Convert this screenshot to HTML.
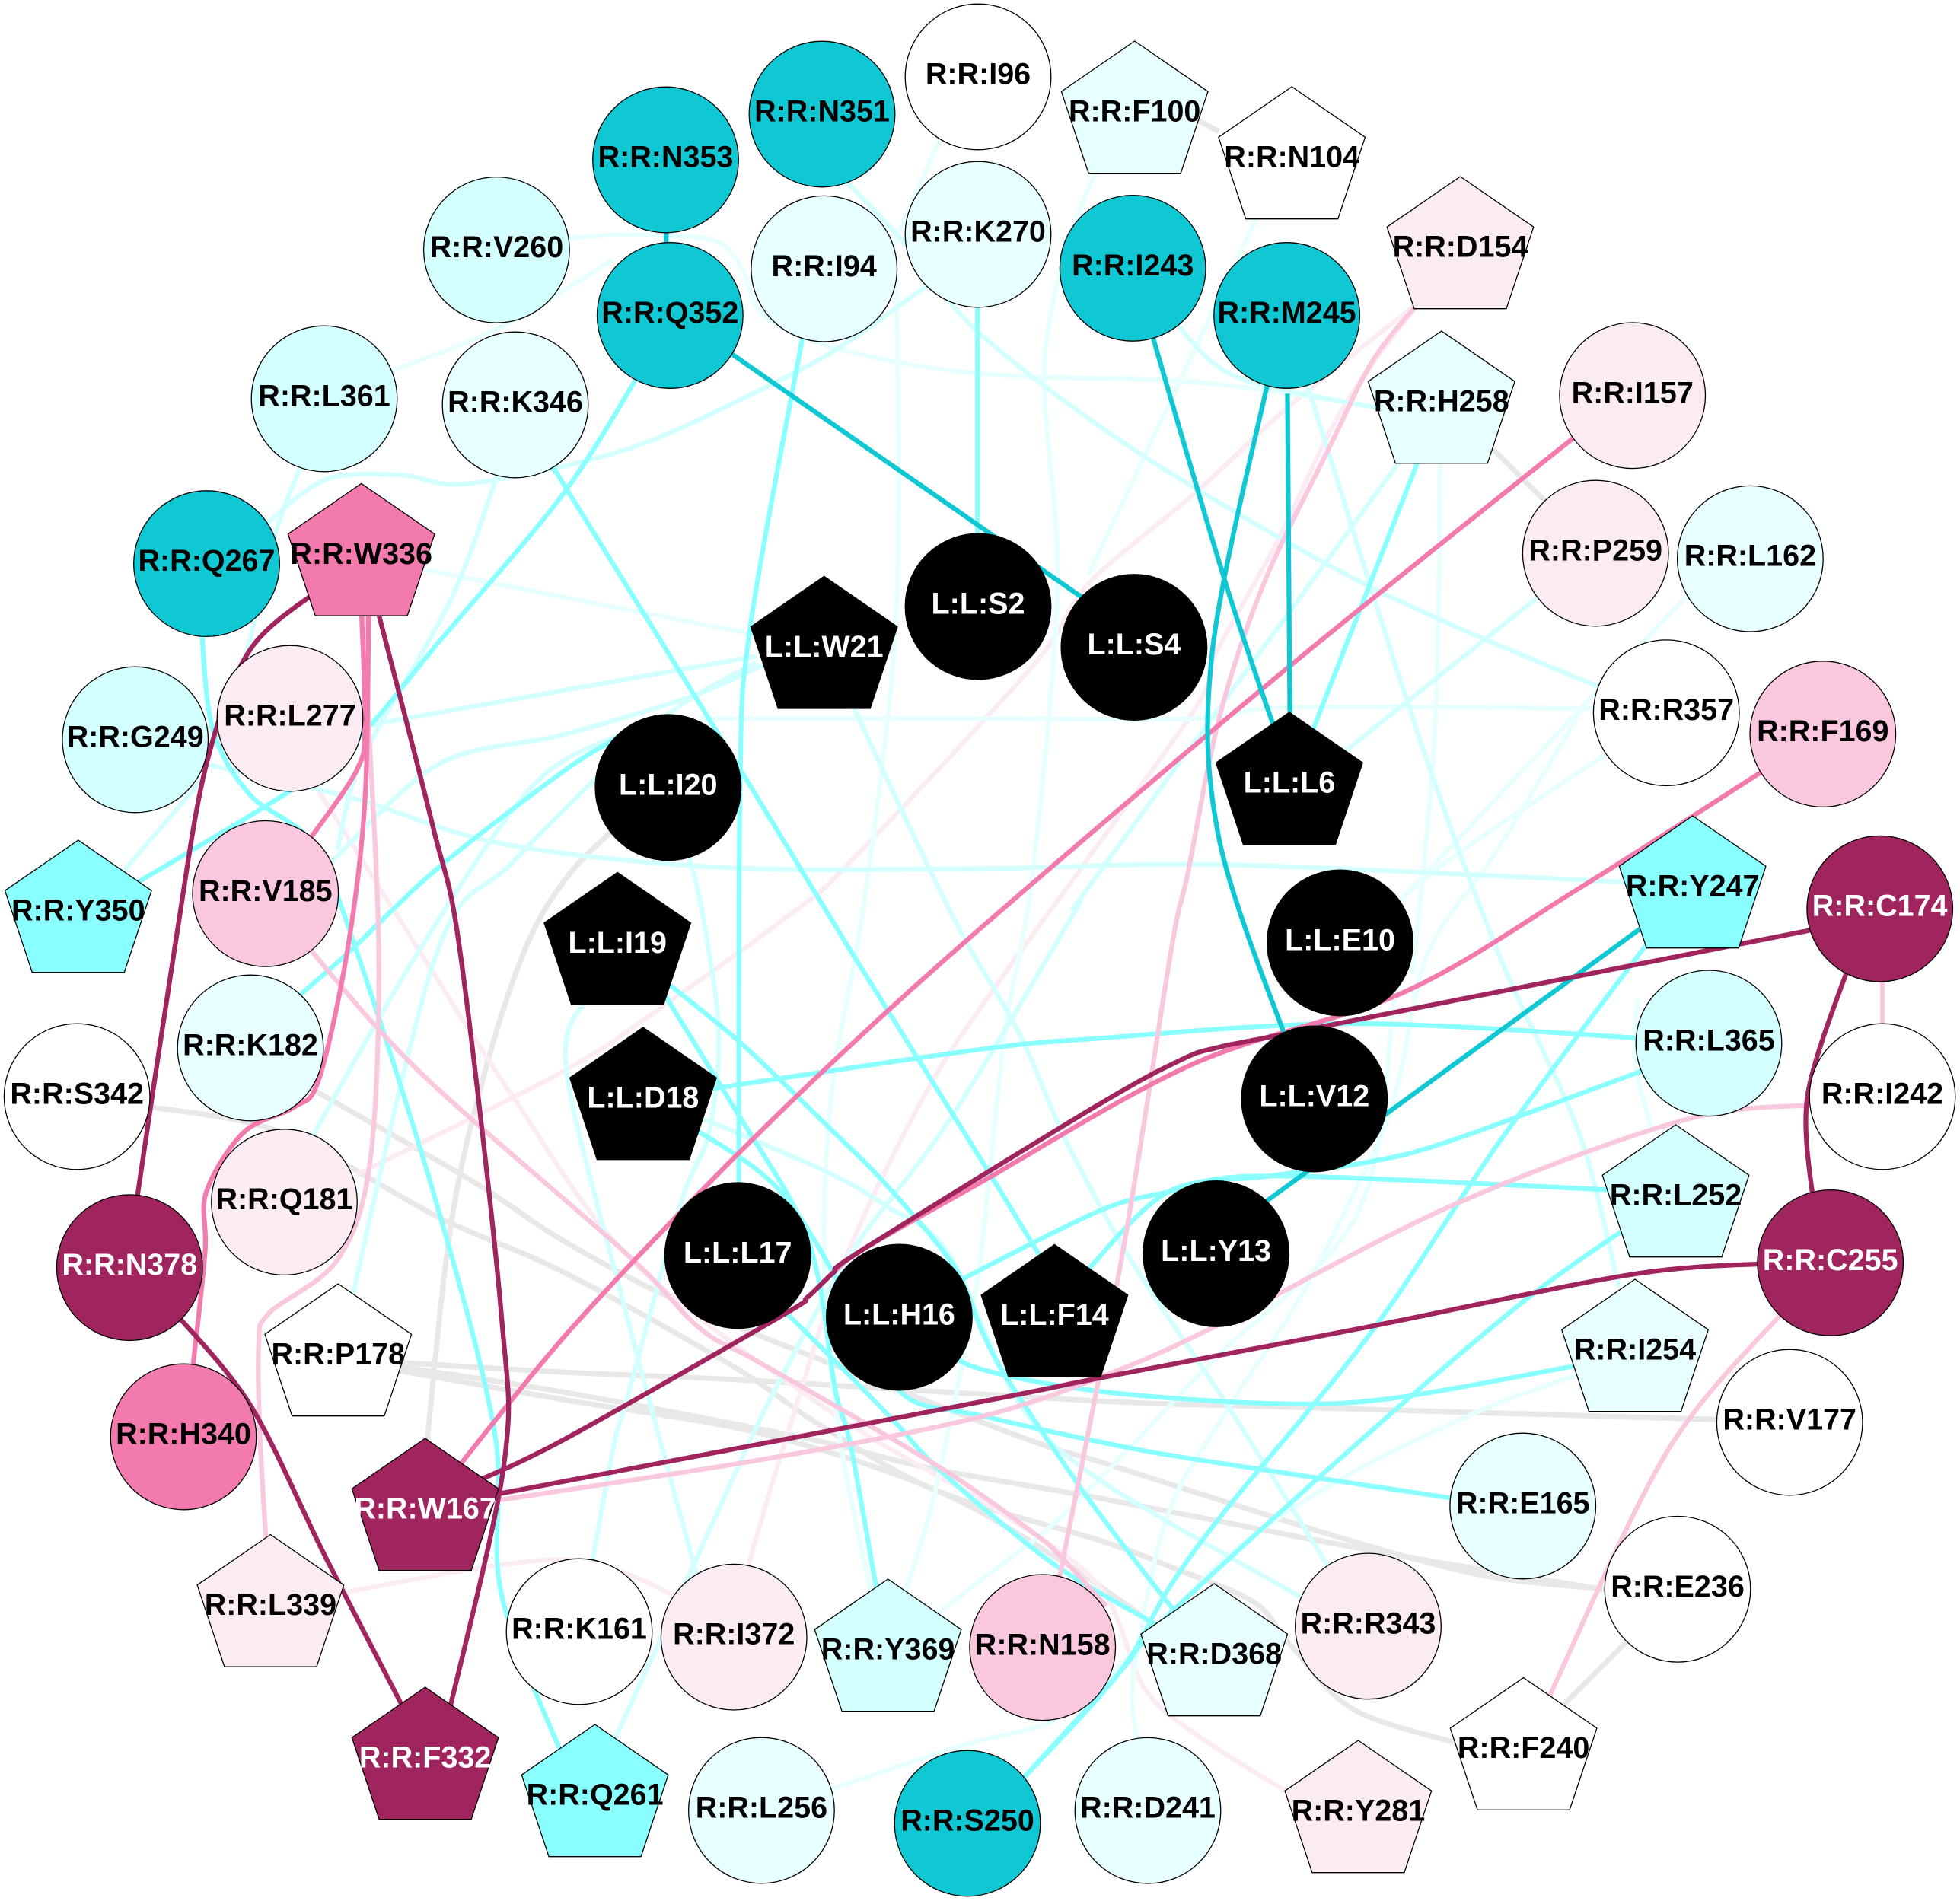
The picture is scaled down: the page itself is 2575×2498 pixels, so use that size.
<!DOCTYPE html>
<html><head><meta charset="utf-8"><style>
html,body{margin:0;padding:0;background:#fff}
svg{display:block}
path{fill:none;stroke-linecap:butt;stroke-linejoin:round}
text{font-family:"Liberation Sans",sans-serif;font-weight:bold;font-size:39.5px;text-anchor:middle;fill:#000}
text.w{fill:#fff}
.n circle,.n use{stroke:#000;stroke-width:1.3}
</style></head><body>
<svg xmlns="http://www.w3.org/2000/svg" width="2575" height="2498" viewBox="0 0 2575 2498">
<defs><polygon id="p" points="0,-96 96.3,-29.7 60.5,77.7 -60.5,77.7 -96.3,-29.7"/></defs>
<rect width="2575" height="2498" fill="#fff"/>
<g transform="scale(1.6422)" stroke-width="3.8">
<g stroke="#e8e8e8" stroke-width="4.3">
<path d="M950 92 975 105"/>
<path d="M1190 355 1240 405"/>
<path d="M1310 1305 1250 1365"/>
<path d="M495 660 455 700 422 755 390 850 361 978 341 1160"/>
<path d="M240 866 376 944 451 993 546 1043 695 1103 831 1155 881 1170 1035 1219 1130 1247 1200 1263 1290 1272"/>
<path d="M115 885 225 906 351 974 451 1018 586 1093 654 1139 750 1193 881 1233 937 1254 1003 1282 1033 1317 1083 1368 1170 1396"/>
<path d="M315 1090 451 1098 609 1105 877 1121 1035 1126 1380 1136"/>
<path d="M315 1093 451 1114 641 1150 745 1175 881 1199 1035 1229 1150 1250 1290 1273"/>
<path d="M315 1096 451 1120 609 1147 750 1193 854 1252 930 1305"/>
</g>
<g stroke="#fbecf3">
<path d="M250 625 335 760 410 877 505 1008 665 1130 800 1210 880 1270 915 1350 960 1390 1040 1440"/>
<path d="M1135 242 1029 327 958 393 871 467 826 533 679 691 633 731 532 804 451 857 285 940"/>
<path d="M265 1276 451 1248 550 1282"/>
<path d="M595 1265 627 1157 676 1008 742 872 796 790 861 700 958 564 973 522 1021 435 1074 327 1135 242"/>
</g>
<g stroke="#e8ffff">
<path d="M755 105 716 195 717 222 719 397 714 537 690 731 668 853 660 948 660 1040 664 1090 675 1170 697 1275"/>
<path d="M895 130 870 152 836 285 846 467 826 700 804 826 785 1002 772 1080 745 1206 722 1280"/>
<path d="M1010 165 917 362 871 460"/>
<path d="M560 575 785 575 958 575 1033 566 1285 567"/>
<path d="M1152 365 1148 583 1130 780"/>
<path d="M1352 474 1118 723"/>
<path d="M1270 560 1198 680 1143 761 1120 860 1103 913 1043 1033 980 1131 934 1213 907 1340 910 1395"/>
<path d="M1290 600 1118 723 1115 800 1086 971 969 1090 853 1210 789 1261 745 1295"/>
<path d="M655 1435 772 1396 840 1378 888 1340 934 1294 988 1240 1070 1185 1179 1131 1270 1097"/>
<path d="M305 300 400 262 490 208"/>
<path d="M450 191 500 188 570 192 593 214 611 252 670 279 784 299 958 306 1105 326"/>
<path d="M335 455 605 508"/>
<path d="M1310 800 1308 850 1322 905"/>
</g>
<g stroke="#d3ffff">
<path d="M242 370 220 428 195 530 170 590"/>
<path d="M165 620 92 705"/>
<path d="M210 422 260 384 320 380 375 387 500 360 600 316 670 279 745 226"/>
<path d="M398 380 360 481 290 607 270 680"/>
<path d="M495 588 426 629 335 761 245 918"/>
<path d="M605 530 526 578 411 689 350 761 280 1045"/>
<path d="M605 525 285 582"/>
<path d="M611 532 551 558 450 588 350 612 260 695"/>
<path d="M680 560 761 731 815 826 853 913 907 1012 981 1123 1068 1262"/>
<path d="M672 140 724 195 784 267 906 359 1057 449 1157 498 1285 552"/>
<path d="M470 798 453 856 501 1051 560 1270"/>
<path d="M550 680 562 731 575 826 567 907 545 962 502 1118 491 1157 472 1260"/>
<path d="M488 1400 521 1328 598 1157 630 1093 657 1043 690 989 763 891 859 731 878 700 1125 362"/>
<path d="M1235 474 1055 618"/>
<path d="M1045 305 1133 583 1198 761 1263 906 1295 1030"/>
<path d="M938 255 988 301 1105 327"/>
<path d="M158 610 280 638 401 675 576 694 785 695 983 692 1305 706"/>
<path d="M555 892 660 937 709 965 758 1002 815 1122 881 1185 1048 1282"/>
</g>
<g stroke="#8affff">
<path d="M512 298 450 396 350 515 290 587 235 631 100 712"/>
<path d="M643 265 600 503 592 634 591 960"/>
<path d="M437 365 593 617 680 760 780 920 838 1015"/>
<path d="M161 500 170 583 200 636 250 675 285 760 351 969 396 1148 401 1275 452 1410"/>
<path d="M495 590 451 617 351 694 280 761 232 803"/>
<path d="M1138 360 1048 590"/>
<path d="M782 235 782 440"/>
<path d="M1318 831 1083 819 877 831 782 840 570 871"/>
<path d="M1308 953 1016 941 934 954 877 970 765 1026"/>
<path d="M1316 856 1160 913 1094 930 1016 941 934 954 865 1022"/>
<path d="M1320 752 1200 913 1097 1066 980 1209 935 1271 895 1339 812 1430"/>
<path d="M1305 980 1218 1042 1088 1153 933 1294 895 1339 812 1430"/>
<path d="M1270 1091 1113 1119 1016 1123 877 1113 777 1093 750 1068"/>
<path d="M1170 1200 958 1168 881 1154 786 1133 724 1117 690 1060 625 954 550 900"/>
<path d="M525 785 592 894 636 967 655 1024 668 1111 681 1159 703 1282"/>
<path d="M528 782 592 834 663 902 709 948 763 1013 786 1066 807 1105 867 1194 916 1259 938 1287"/>
<path d="M618 1040 666 1087 718 1140 745 1170 799 1217 854 1259 925 1300"/>
</g>
<g stroke="#f9c8de">
<path d="M240 750 335 857 501 1003 560 1063 609 1091 750 1173 826 1226 848 1245 885 1285"/>
<path d="M1135 242 1098 289 1063 359 1011 467 976 572 950 700 937 760 898 1003 845 1275"/>
<path d="M1455 884 1348 896 1163 964 983 1056 893 1097 783 1134 609 1168 395 1201"/>
<path d="M1430 1046 1334 1161 1236 1365"/>
<path d="M1506 780 1506 825"/>
<path d="M293 485 293 540 303 761 296 930 270 1008 215 1051 207 1076 208 1150 213 1235"/>
</g>
<g stroke="#f27aad">
<path d="M1268 343 1033 532 798 731 668 848 560 954 451 1070 360 1182"/>
<path d="M1418 612 1263 711 1123 794 953 852 783 947 690 1000 666 1019 646 1038 625 1053 451 1152 375 1188"/>
<path d="M289 485 292 580 285 617 243 678"/>
<path d="M295 485 292 640 278 760 255 864 235 886 195 906 165 954 164 1003 153 1105"/>
</g>
<g stroke="#10c8d3">
<path d="M533 180 533 200"/>
<path d="M575 276 880 488"/>
<path d="M920 262 980 465 1022 590"/>
<path d="M1030 315 1032 585"/>
<path d="M1016 298 970 520 975 670 1032 840"/>
<path d="M1322 736 990 978"/>
</g>
<g stroke="#a0245e">
<path d="M375 1188 451 1152 625 1053 646 1038 666 1019 690 1000 877 885 945 848 975 838 1040 825 1460 742"/>
<path d="M1415 1011 1304 1020 1088 1063 883 1102 783 1122 385 1198"/>
<path d="M1480 770 1446 877 1451 965"/>
<path d="M258 470 200 520 165 612 140 757 108 970"/>
<path d="M300 480 346 660 368 761 401 1051 403 1173 358 1375"/>
<path d="M135 1045 200 1124 260 1245 327 1375"/>
</g>
</g>
<g class="n">
<circle cx="874.5" cy="210" r="95.8" fill="#10c8d3"/><text x="874.5" y="219.5">R:R:N353</text>
<circle cx="1080" cy="150" r="95.8" fill="#10c8d3"/><text x="1080" y="159.5">R:R:N351</text>
<circle cx="1285" cy="101" r="95.8" fill="#fff"/><text x="1285" y="110.5">R:R:I96</text>
<circle cx="652.4" cy="328.4" r="95.8" fill="#d3ffff"/><text x="652.4" y="338">R:R:V260</text>
<circle cx="880.3" cy="414.5" r="95.8" fill="#10c8d3"/><text x="880.3" y="424">R:R:Q352</text>
<circle cx="1082.7" cy="353.2" r="95.8" fill="#e8ffff"/><text x="1082.7" y="363">R:R:I94</text>
<circle cx="1285" cy="308" r="95.8" fill="#e8ffff"/><text x="1285" y="317.5">R:R:K270</text>
<circle cx="426" cy="524" r="95.8" fill="#d3ffff"/><text x="426" y="533.5">R:R:L361</text>
<circle cx="677" cy="532" r="95.8" fill="#e8ffff"/><text x="677" y="541.5">R:R:K346</text>
<circle cx="271.5" cy="740.6" r="95.8" fill="#10c8d3"/><text x="271.5" y="750">R:R:Q267</text>
<use href="#p" x="474.7" y="731.4" fill="#f27aad"/><text x="474.7" y="741">R:R:W336</text>
<circle cx="381" cy="944" r="95.8" fill="#fbecf3"/><text x="381" y="953.5">R:R:L277</text>
<circle cx="177.7" cy="972" r="95.8" fill="#d3ffff"/><text x="177.7" y="981.5">R:R:G249</text>
<use href="#p" x="102.8" y="1200" fill="#8affff"/><text x="102.8" y="1209.5">R:R:Y350</text>
<circle cx="348.8" cy="1174.3" r="95.8" fill="#f9c8de"/><text x="348.8" y="1184">R:R:V185</text>
<circle cx="329" cy="1377" r="95.8" fill="#e8ffff"/><text x="329" y="1386.5">R:R:K182</text>
<circle cx="101.2" cy="1441" r="95.8" fill="#fff"/><text x="101.2" y="1450.5">R:R:S342</text>
<circle cx="170.3" cy="1665.7" r="95.8" fill="#a0245e"/><text class="w" x="170.3" y="1675">R:R:N378</text>
<circle cx="373.5" cy="1579.6" r="95.8" fill="#fbecf3"/><text x="373.5" y="1589">R:R:Q181</text>
<use href="#p" x="444.3" y="1783" fill="#fff"/><text x="444.3" y="1792.5">R:R:P178</text>
<circle cx="241" cy="1888" r="95.8" fill="#f27aad"/><text x="241" y="1897.5">R:R:H340</text>
<use href="#p" x="558.6" y="1986" fill="#a0245e"/><text class="w" x="558.6" y="1995.5">R:R:W167</text>
<use href="#p" x="355.4" y="2112.5" fill="#fbecf3"/><text x="355.4" y="2122">R:R:L339</text>
<circle cx="761" cy="2144" r="95.8" fill="#fff"/><text x="761" y="2153.5">R:R:K161</text>
<circle cx="964.2" cy="2151.2" r="95.8" fill="#fbecf3"/><text x="964.2" y="2160.7">R:R:I372</text>
<use href="#p" x="1166.6" y="2171" fill="#d3ffff"/><text x="1166.6" y="2180.5">R:R:Y369</text>
<use href="#p" x="558.6" y="2313" fill="#a0245e"/><text class="w" x="558.6" y="2322.5">R:R:F332</text>
<use href="#p" x="781.6" y="2362" fill="#8affff"/><text x="781.6" y="2371.5">R:R:Q261</text>
<circle cx="1000.4" cy="2379" r="95.8" fill="#e8ffff"/><text x="1000.4" y="2388.5">R:R:L256</text>
<circle cx="1271" cy="2396" r="95.8" fill="#10c8d3"/><text x="1271" y="2405.5">R:R:S250</text>
<use href="#p" x="1490.7" y="150" fill="#e8ffff"/><text x="1490.7" y="159.5">R:R:F100</text>
<use href="#p" x="1697.2" y="210" fill="#fff"/><text x="1697.2" y="219.5">R:R:N104</text>
<use href="#p" x="1918.5" y="328" fill="#fbecf3"/><text x="1918.5" y="337.5">R:R:D154</text>
<circle cx="1488.2" cy="352.4" r="95.8" fill="#10c8d3"/><text x="1488.2" y="362">R:R:I243</text>
<circle cx="1690.6" cy="414.5" r="95.8" fill="#10c8d3"/><text x="1690.6" y="424">R:R:M245</text>
<use href="#p" x="1893.8" y="531" fill="#e8ffff"/><text x="1893.8" y="540.5">R:R:H258</text>
<circle cx="2144.7" cy="519.8" r="95.8" fill="#fbecf3"/><text x="2144.7" y="529.3">R:R:I157</text>
<circle cx="2096.2" cy="727" r="95.8" fill="#fbecf3"/><text x="2096.2" y="736.5">R:R:P259</text>
<circle cx="2299.4" cy="734.2" r="95.8" fill="#e8ffff"/><text x="2299.4" y="743.7">R:R:L162</text>
<circle cx="2189.2" cy="936.7" r="95.8" fill="#fff"/><text x="2189.2" y="946">R:R:R357</text>
<circle cx="2394.8" cy="964.6" r="95.8" fill="#f9c8de"/><text x="2394.8" y="974">R:R:F169</text>
<use href="#p" x="2223.7" y="1168" fill="#8affff"/><text x="2223.7" y="1177.5">R:R:Y247</text>
<circle cx="2469.7" cy="1194.2" r="95.8" fill="#a0245e"/><text class="w" x="2469.7" y="1203.7">R:R:C174</text>
<circle cx="2245" cy="1370.8" r="95.8" fill="#d3ffff"/><text x="2245" y="1380.3">R:R:L365</text>
<circle cx="2473" cy="1441" r="95.8" fill="#fff"/><text x="2473" y="1450.5">R:R:I242</text>
<use href="#p" x="2201.5" y="1574" fill="#d3ffff"/><text x="2201.5" y="1583.5">R:R:L252</text>
<circle cx="2404.7" cy="1659.4" r="95.8" fill="#a0245e"/><text class="w" x="2404.7" y="1669">R:R:C255</text>
<use href="#p" x="2148" y="1777" fill="#e8ffff"/><text x="2148" y="1786.5">R:R:I254</text>
<circle cx="2351.2" cy="1869" r="95.8" fill="#fff"/><text x="2351.2" y="1878.5">R:R:V177</text>
<circle cx="2000.7" cy="1979" r="95.8" fill="#e8ffff"/><text x="2000.7" y="1988.5">R:R:E165</text>
<circle cx="2204" cy="2088.3" r="95.8" fill="#fff"/><text x="2204" y="2097.8">R:R:E236</text>
<circle cx="1369.7" cy="2164.8" r="95.8" fill="#f9c8de"/><text x="1369.7" y="2174.3">R:R:N158</text>
<use href="#p" x="1595.2" y="2177" fill="#e8ffff"/><text x="1595.2" y="2186.5">R:R:D368</text>
<circle cx="1797.5" cy="2136.9" r="95.8" fill="#fbecf3"/><text x="1797.5" y="2146.4">R:R:R343</text>
<use href="#p" x="2001.6" y="2300.6" fill="#fff"/><text x="2001.6" y="2310">R:R:F240</text>
<circle cx="1508" cy="2379.2" r="95.8" fill="#e8ffff"/><text x="1508" y="2388.7">R:R:D241</text>
<use href="#p" x="1784.4" y="2383" fill="#fbecf3"/><text x="1784.4" y="2392.5">R:R:Y281</text>
<use href="#p" x="1082.7" y="853.3" fill="#000"/><text class="w" x="1082.7" y="862.8">L:L:W21</text>
<circle cx="1285" cy="797" r="95.8" fill="#000"/><text class="w" x="1285" y="806.5">L:L:S2</text>
<circle cx="1489.9" cy="850.6" r="95.8" fill="#000"/><text class="w" x="1489.9" y="860">L:L:S4</text>
<use href="#p" x="1693.9" y="1032" fill="#000"/><text class="w" x="1693.9" y="1041.5">L:L:L6</text>
<circle cx="877.8" cy="1034.8" r="95.8" fill="#000"/><text class="w" x="877.8" y="1044.3">L:L:I20</text>
<use href="#p" x="811.2" y="1242.4" fill="#000"/><text class="w" x="811.2" y="1252">L:L:I19</text>
<use href="#p" x="844.9" y="1446" fill="#000"/><text class="w" x="844.9" y="1455.5">L:L:D18</text>
<circle cx="1760.5" cy="1239" r="95.8" fill="#000"/><text class="w" x="1760.5" y="1248.5">L:L:E10</text>
<circle cx="1726.8" cy="1444" r="95.8" fill="#000"/><text class="w" x="1726.8" y="1453.5">L:L:V12</text>
<circle cx="1597.6" cy="1647.4" r="95.8" fill="#000"/><text class="w" x="1597.6" y="1657">L:L:Y13</text>
<circle cx="969.2" cy="1649.8" r="95.8" fill="#000"/><text class="w" x="969.2" y="1659.3">L:L:L17</text>
<circle cx="1181.4" cy="1731" r="95.8" fill="#000"/><text class="w" x="1181.4" y="1740.5">L:L:H16</text>
<use href="#p" x="1385.4" y="1731.4" fill="#000"/><text class="w" x="1385.4" y="1741">L:L:F14</text>
</g>
</svg>
<script>
document.querySelectorAll('svg path').forEach(function(p){
var n=p.getAttribute('d').replace(/M/,'').trim().split(/\s+/).map(Number),pts=[];
for(var i=0;i<n.length;i+=2)pts.push([n[i],n[i+1]]);
if(pts.length<3)return;
var d='M'+pts[0][0]+' '+pts[0][1],k=0.16;
for(var i=0;i<pts.length-1;i++){
var a=pts[Math.max(i-1,0)],b=pts[i],c=pts[i+1],e=pts[Math.min(i+2,pts.length-1)];
d+='C'+(b[0]+(c[0]-a[0])*k).toFixed(1)+' '+(b[1]+(c[1]-a[1])*k).toFixed(1)+' '+(c[0]-(e[0]-b[0])*k).toFixed(1)+' '+(c[1]-(e[1]-b[1])*k).toFixed(1)+' '+c[0]+' '+c[1];
}
p.setAttribute('d',d);
});
</script>
</body></html>
